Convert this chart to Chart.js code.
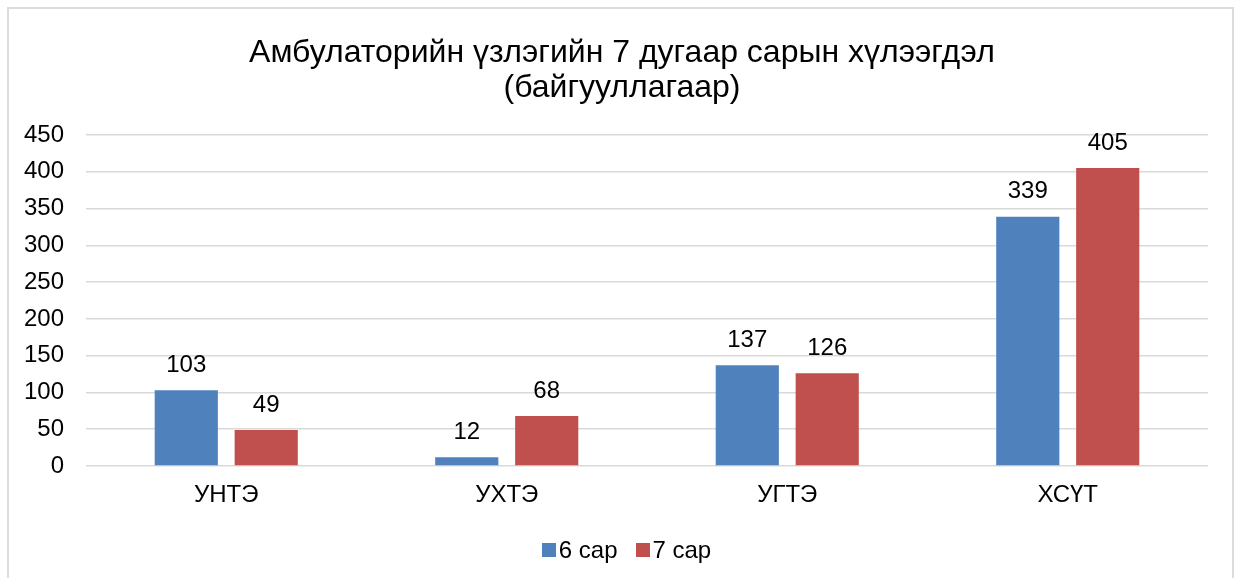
<!DOCTYPE html>
<html>
<head>
<meta charset="utf-8">
<script src="https://cdn.jsdelivr.net/npm/chart.js@4"></script>
<style>
    html, body { margin: 0; padding: 0; background: #fff; }
    #wrap { position: relative; width: 1237px; height: 578px; overflow: hidden; }
    #frame {
        position: absolute; left: 7px; top: 7px; width: 1227px; height: 620px;
        border: 2px solid #dcdcdc; box-sizing: border-box; pointer-events: none;
    }
    #title {
        position: absolute; left: 0; top: 34px; width: 1244px;
        text-align: center; font: 32px "Liberation Sans", Arial, sans-serif;
        line-height: 35px; color: #000;
    }
    #legend {
        position: absolute; left: 0; top: 536px; width: 1253px;
        text-align: center; font: 24px "Liberation Sans", Arial, sans-serif;
        line-height: 28px; color: #000; white-space: nowrap;
    }
    #legend .item { display: inline-block; }
    #legend .item + .item { margin-left: 18px; }
    #legend .box {
        display: inline-block; width: 14px; height: 14px; margin-right: 3px;
        vertical-align: 1px;
    }
    canvas { position: absolute; left: 0; top: 0; }
</style>
</head>
<body>
<div id="wrap">
    <canvas id="chart" width="1237" height="578"></canvas>
    <div id="title"></div>
    <div id="legend"></div>
    <div id="frame"></div>
</div>
<script>
// Chart data
const categories = ['УНТЭ', 'УХТЭ', 'УГТЭ', 'ХСҮТ'];
const june = [103, 12, 137, 339];
const july = [49, 68, 126, 405];
const seriesNames = ['6 сар', '7 сар'];
const titleLines = ['Амбулаторийн үзлэгийн 7 дугаар сарын хүлээгдэл', '(байгууллагаар)'];

const fontFamily = '"Liberation Sans", Arial, sans-serif';
const colors = ['#4F81BD', '#C0504D'];

// Title as page text (centred over the frame, not the canvas)
const titleEl = document.getElementById('title');
titleLines.forEach(line => {
    const d = document.createElement('div');
    d.textContent = line;
    titleEl.appendChild(d);
});

// Legend below the axis
const legendEl = document.getElementById('legend');
seriesNames.forEach((name, i) => {
    const item = document.createElement('span');
    item.className = 'item';
    const box = document.createElement('span');
    box.className = 'box';
    box.style.background = colors[i];
    item.appendChild(box);
    item.appendChild(document.createTextNode(name));
    legendEl.appendChild(item);
});

// Draw the value above each bar
const valueLabels = {
    id: 'valueLabels',
    afterDatasetsDraw(chart) {
        const ctx = chart.ctx;
        ctx.save();
        ctx.font = '24px ' + fontFamily;
        ctx.fillStyle = '#000';
        ctx.textAlign = 'center';
        ctx.textBaseline = 'middle';
        chart.data.datasets.forEach((ds, i) => {
            chart.getDatasetMeta(i).data.forEach((bar, j) => {
                ctx.fillText(ds.data[j], bar.x, bar.y - 25);
            });
        });
        ctx.restore();
    }
};

const config = {
    type: 'bar',
    data: {
        labels: categories,
        datasets: [{
            label: seriesNames[0],
            data: june,
            backgroundColor: colors[0],
            categoryPercentage: 0.57,
            barPercentage: 0.79
        }, {
            label: seriesNames[1],
            data: july,
            backgroundColor: colors[1],
            categoryPercentage: 0.57,
            barPercentage: 0.79
        }]
    },
    options: {
        responsive: false,
        animation: false,
        layout: {
            padding: { left: 0, right: 29, top: 135, bottom: 58 }
        },
        plugins: {
            title: { display: false },
            legend: { display: false },
            tooltip: { enabled: false }
        },
        scales: {
            x: {
                grid: { display: false, drawTicks: false },
                border: { display: false },
                ticks: {
                    color: '#000',
                    font: { family: fontFamily, size: 24 },
                    padding: 15
                },
                afterFit(scale) { scale.height = 54; }
            },
            y: {
                min: 0,
                max: 450,
                grid: { color: '#d9d9d9', lineWidth: 1.5, drawTicks: false },
                border: { display: false },
                ticks: {
                    stepSize: 50,
                    color: '#000',
                    font: { family: fontFamily, size: 24 },
                    padding: 22
                },
                afterFit(scale) { scale.width = 86; }
            }
        }
    },
    plugins: [valueLabels]
};

const chart = new Chart(document.getElementById('chart'), config);
</script>
</body>
</html>
